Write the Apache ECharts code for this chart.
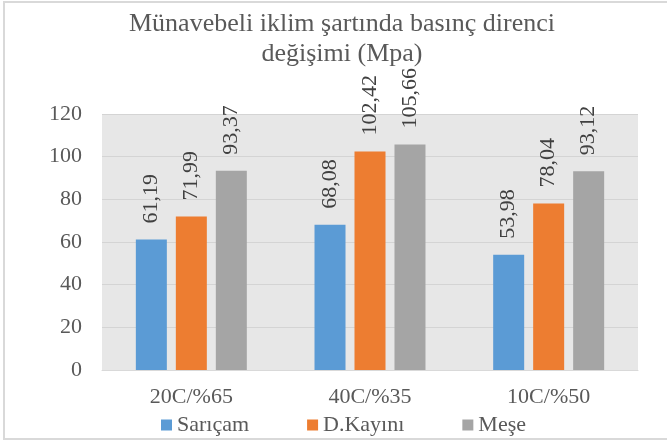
<!DOCTYPE html>
<html>
<head>
<meta charset="utf-8">
<script src="https://cdn.jsdelivr.net/npm/echarts@6/dist/echarts.min.js"></script>
<style>
  html, body { margin: 0; padding: 0; background: #fff; }
  #chart { width: 667px; height: 443px; }
</style>
</head>
<body>
<div id="chart"></div>
<script>
var categories = ["20C/%65", "40C/%35", "10C/%50"];
var sariCam = [61.19, 68.08, 53.98];
var dKayini = [71.99, 102.42, 78.04];
var mese = [93.37, 105.66, 93.12];
var seriesNames = ["Sarıçam", "D.Kayını", "Meşe"];
var colors = ["#5b9bd5", "#ed7d31", "#a5a5a5"];

var font = "'Liberation Serif', 'Times New Roman', serif";

function fmt(v) {
  return v.toFixed(2).replace(".", ",");
}

function bar(name, data, color) {
  return {
    name: name,
    type: "bar",
    data: data,
    barWidth: 31,
    barGap: "29%",
    itemStyle: { color: color },
    label: {
      show: true,
      position: "top",
      rotate: 90,
      align: "left",
      verticalAlign: "middle",
      distance: 16,
      fontFamily: font,
      fontSize: 22,
      color: "#404040",
      formatter: function (p) {
        return fmt(p.value);
      },
    },
  };
}

var myChart = echarts.init(document.getElementById("chart"));
myChart.setOption({
  animation: false,
  backgroundColor: "#fff",
  color: colors,
  title: {
    text: "Münavebeli iklim şartında basınç direnci\ndeğişimi (Mpa)",
    left: 337,
    textAlign: "center",
    top: 4,
    textStyle: {
      fontFamily: font,
      fontSize: 26,
      fontWeight: "normal",
      color: "#595959",
      lineHeight: 30,
    },
  },
  graphic: [
    {
      type: "rect",
      shape: { x: 4, y: 2, width: 700, height: 437 },
      style: { fill: "none", stroke: "#d9d9d9", lineWidth: 2 },
      z: 100,
    },
  ],
  grid: {
    left: 102,
    right: 29,
    top: 114,
    bottom: 73,
    show: true,
    backgroundColor: "#e7e7e7",
    borderWidth: 0,
  },
  legend: {
    left: 156,
    top: 409,
    itemWidth: 11,
    itemHeight: 11,
    itemGap: 58,
    icon: "rect",
    textStyle: { fontFamily: font, fontSize: 22, color: "#595959" },
    data: seriesNames,
  },
  xAxis: {
    type: "category",
    data: categories,
    axisLine: { lineStyle: { color: "#d9d9d9", width: 1 } },
    axisTick: { show: false },
    axisLabel: {
      fontFamily: font,
      fontSize: 22,
      color: "#595959",
      margin: 16,
    },
  },
  yAxis: {
    type: "value",
    min: 0,
    max: 120,
    interval: 20,
    axisLine: { show: false },
    axisTick: { show: false },
    splitLine: { lineStyle: { color: "#d4d4d4", width: 1 } },
    axisLabel: {
      fontFamily: font,
      fontSize: 22,
      color: "#595959",
      margin: 20,
    },
  },
  series: [
    bar(seriesNames[0], sariCam, colors[0]),
    bar(seriesNames[1], dKayini, colors[1]),
    bar(seriesNames[2], mese, colors[2]),
  ],
});
</script>
</body>
</html>
